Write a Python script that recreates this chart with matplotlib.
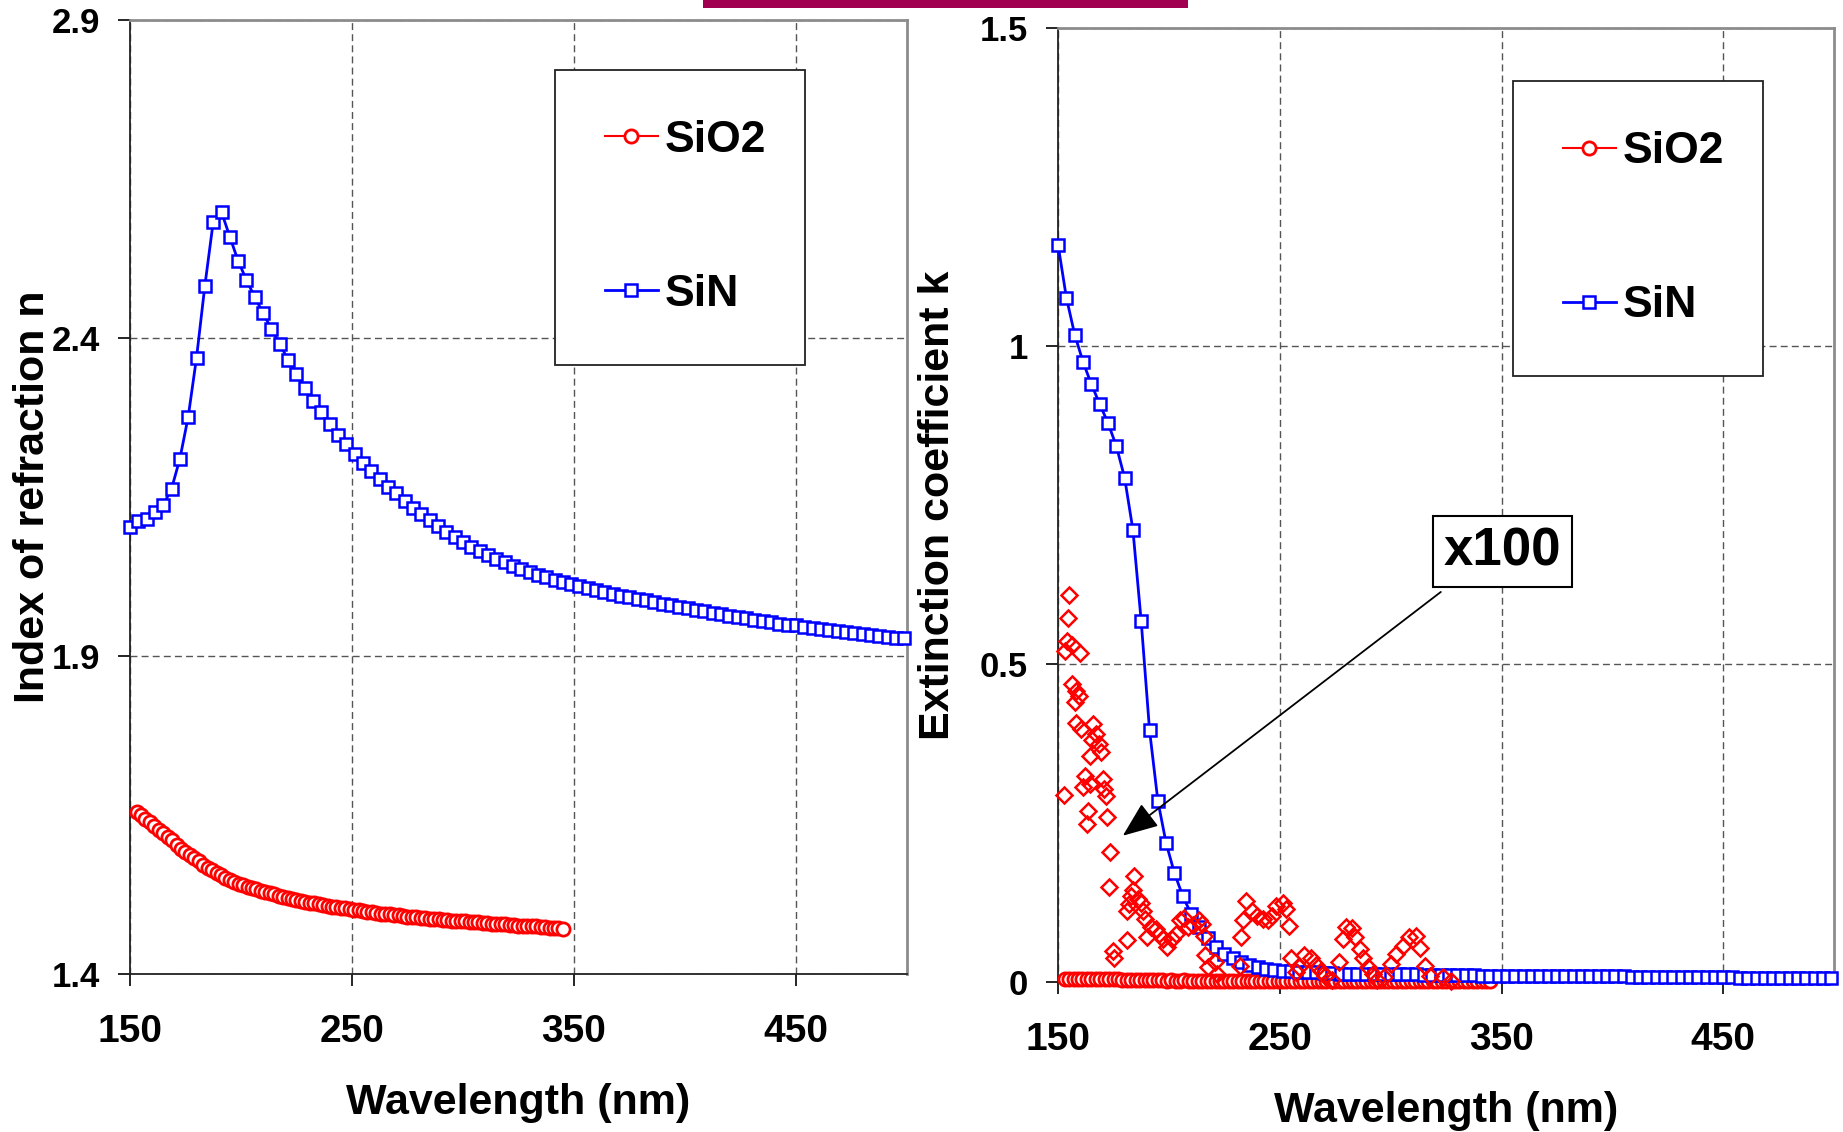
import numpy as np
import matplotlib
matplotlib.use('Agg')
import matplotlib.pyplot as plt
from matplotlib.patches import Rectangle

plt.rcParams['font.family'] = ['Liberation Sans', 'DejaVu Sans']
plt.rcParams['font.weight'] = 'bold'
plt.rcParams['axes.labelweight'] = 'bold'

# sampling grids of the measured spectra (nm)
wl_sin = np.arange(150, 500, 3.75)    # 94 points, 150 ... 498.75
wl_sio2 = np.arange(153, 346, 2)      # 97 points, 153 ... 345

# index of refraction n
n_sin = [2.103, 2.112, 2.115, 2.126, 2.137, 2.163, 2.210, 2.276, 2.369, 2.482,
         2.582, 2.598, 2.559, 2.521, 2.491, 2.464, 2.439, 2.414, 2.391, 2.365,
         2.343, 2.321, 2.301, 2.284, 2.265, 2.247, 2.233, 2.218, 2.203, 2.191,
         2.178, 2.166, 2.156, 2.144, 2.133, 2.123, 2.113, 2.104, 2.095, 2.087,
         2.079, 2.072, 2.065, 2.059, 2.053, 2.047, 2.042, 2.037, 2.032, 2.028,
         2.024, 2.020, 2.016, 2.013, 2.010, 2.007, 2.004, 2.001, 1.998, 1.995,
         1.993, 1.990, 1.988, 1.985, 1.982, 1.980, 1.977, 1.975, 1.972, 1.970,
         1.968, 1.966, 1.963, 1.961, 1.959, 1.957, 1.955, 1.953, 1.951, 1.949,
         1.948, 1.946, 1.944, 1.942, 1.941, 1.939, 1.937, 1.936, 1.934, 1.933,
         1.931, 1.930, 1.929, 1.928]

n_sio2 = [1.655, 1.650, 1.644, 1.639, 1.633, 1.627, 1.622, 1.616, 1.610, 1.603,
          1.597, 1.591, 1.587, 1.582, 1.577, 1.572, 1.567, 1.563, 1.559, 1.555,
          1.551, 1.548, 1.545, 1.542, 1.540, 1.537, 1.535, 1.533, 1.531, 1.529,
          1.527, 1.525, 1.523, 1.521, 1.520, 1.518, 1.516, 1.515, 1.513, 1.512,
          1.511, 1.510, 1.509, 1.507, 1.506, 1.505, 1.504, 1.503, 1.502, 1.501,
          1.500, 1.499, 1.498, 1.497, 1.496, 1.495, 1.494, 1.494, 1.493, 1.492,
          1.491, 1.490, 1.490, 1.489, 1.488, 1.488, 1.487, 1.486, 1.486, 1.485,
          1.485, 1.484, 1.484, 1.483, 1.483, 1.482, 1.481, 1.481, 1.480, 1.480,
          1.479, 1.479, 1.478, 1.478, 1.477, 1.477, 1.476, 1.476, 1.476, 1.475,
          1.475, 1.474, 1.474, 1.473, 1.473, 1.472, 1.471]

# extinction coefficient k
k_sin = [1.159, 1.076, 1.018, 0.975, 0.940, 0.909, 0.879, 0.843, 0.793, 0.711,
         0.567, 0.396, 0.285, 0.218, 0.171, 0.135, 0.107, 0.086, 0.069, 0.055,
         0.044, 0.037, 0.031, 0.026, 0.023, 0.021, 0.019, 0.018, 0.017, 0.016,
         0.015, 0.015, 0.014, 0.014, 0.013, 0.013, 0.013, 0.013, 0.012, 0.012,
         0.012, 0.012, 0.012, 0.012, 0.011, 0.011, 0.011, 0.011, 0.011, 0.011,
         0.011, 0.010, 0.010, 0.010, 0.010, 0.010, 0.010, 0.010, 0.010, 0.009,
         0.009, 0.009, 0.009, 0.009, 0.009, 0.009, 0.009, 0.009, 0.009, 0.008,
         0.008, 0.008, 0.008, 0.008, 0.008, 0.008, 0.008, 0.008, 0.008, 0.008,
         0.008, 0.008, 0.007, 0.007, 0.007, 0.007, 0.007, 0.007, 0.007, 0.007,
         0.007, 0.007, 0.007, 0.007]

k_sio2 = [0.005, 0.005, 0.005, 0.004, 0.005, 0.004, 0.005, 0.004, 0.004, 0.005,
          0.004, 0.004, 0.004, 0.003, 0.003, 0.003, 0.003, 0.003, 0.003, 0.003,
          0.003, 0.003, 0.003, 0.002, 0.003, 0.002, 0.002, 0.003, 0.002, 0.002,
          0.002, 0.002, 0.002, 0.002, 0.002, 0.002, 0.002, 0.002, 0.002, 0.002,
          0.002, 0.002, 0.002, 0.002, 0.002, 0.002, 0.002, 0.002, 0.002, 0.002,
          0.002, 0.002, 0.001, 0.002, 0.001, 0.001, 0.001, 0.001, 0.001, 0.001,
          0.001, 0.001, 0.001, 0.001, 0.001, 0.001, 0.001, 0.001, 0.001, 0.001,
          0.001, 0.001, 0.001, 0.001, 0.001, 0.001, 0.001, 0.001, 0.001, 0.001,
          0.001, 0.001, 0.001, 0.001, 0.001, 0.001, 0.001, 0.001, 0.001, 0.001,
          0.001, 0.001, 0.001, 0.001, 0.001, 0.001, 0.001]

# SiO2 k multiplied by 100 (red diamonds)
wl_x100 = [154.8, 154.5, 154.0, 156.4, 153.2, 160.0, 156.1, 158.0, 159.6, 157.5,
           158.0, 160.4, 165.7, 167.3, 165.2, 168.5, 164.4, 169.3, 162.0, 161.2,
           164.4, 170.1, 170.9, 171.4, 152.9, 163.6, 163.2, 172.2, 173.6, 172.8,
           184.2, 183.7, 182.9, 181.8, 186.1, 187.4, 181.3, 188.5, 189.3, 191.7,
           190.1, 194.1, 195.7, 197.4, 199.0, 201.4, 203.0, 205.0, 207.0, 208.6,
           211.0, 213.4, 215.0, 215.8, 181.0, 174.6, 175.2, 216.1, 217.4, 220.6,
           221.9, 231.9, 232.7, 233.5, 234.8, 237.5, 239.9, 242.3, 244.7, 246.3,
           248.2, 251.6, 252.7, 254.3, 255.1, 257.5, 258.8, 260.8, 264.0, 266.4,
           268.8, 270.4, 273.6, 276.8, 278.4, 280.0, 282.4, 284.0, 286.1, 287.7,
           289.6, 292.0, 293.7, 296.9, 300.1, 302.5, 305.4, 308.1, 311.3, 313.4,
           315.3, 317.7, 323.4, 327.4]
k_x100 = [0.608, 0.573, 0.536, 0.530, 0.521, 0.518, 0.468, 0.457, 0.450, 0.441,
          0.408, 0.398, 0.406, 0.390, 0.381, 0.374, 0.356, 0.362, 0.324, 0.307,
          0.311, 0.319, 0.303, 0.292, 0.294, 0.269, 0.249, 0.259, 0.204, 0.149,
          0.166, 0.144, 0.136, 0.123, 0.131, 0.125, 0.111, 0.112, 0.099, 0.086,
          0.071, 0.084, 0.076, 0.068, 0.055, 0.068, 0.076, 0.097, 0.100, 0.086,
          0.089, 0.097, 0.091, 0.073, 0.066, 0.048, 0.038, 0.042, 0.024, 0.031,
          0.013, 0.025, 0.071, 0.097, 0.128, 0.112, 0.104, 0.099, 0.097, 0.104,
          0.120, 0.125, 0.115, 0.088, 0.037, 0.016, 0.024, 0.042, 0.037, 0.026,
          0.018, 0.010, 0.003, 0.031, 0.068, 0.086, 0.085, 0.071, 0.052, 0.037,
          0.024, 0.013, 0.003, 0.008, 0.029, 0.044, 0.057, 0.071, 0.073, 0.053,
          0.025, 0.010, 0.008, 0.001]

x_ticks = [150, 250, 350, 450]
n_ticks = [1.4, 1.9, 2.4, 2.9]
k_ticks = [0, 0.5, 1, 1.5]
k_tick_labels = ['0', '0.5', '1', '1.5']

fig = plt.figure(figsize=(18.43, 11.32), dpi=100)
ax1 = fig.add_axes([0.0705, 0.1396, 0.4216, 0.8428])
ax2 = fig.add_axes([0.5741, 0.1325, 0.4211, 0.8428])

# magenta strip at the top
fig.patches.append(Rectangle((0.3814, 0.9929), 0.2632, 0.0071, transform=fig.transFigure,
                             facecolor='#a0004f', edgecolor='none'))


def style(ax):
    ax.set_xlim(150, 500)
    ax.set_xticks(x_ticks)
    ax.grid(True, color='#555555', linestyle=(0, (5, 3)), linewidth=1.0)
    ax.set_axisbelow(True)
    for s in ['top', 'right']:
        ax.spines[s].set_color('#8c8c8c')
        ax.spines[s].set_linewidth(2)
    for s in ['left', 'bottom']:
        ax.spines[s].set_color('#222222')
        ax.spines[s].set_linewidth(1.3)
    ax.tick_params(direction='out', length=8.5, width=1.2, labelsize=25)
    ax.tick_params(axis='x', pad=20, labelsize=28)
    ax.tick_params(axis='y', pad=13)
    ax.set_xlabel('Wavelength (nm)', fontsize=31)


def add_legend(ax, x0, top):
    leg = ax.legend(loc='upper left', bbox_to_anchor=(x0, top - 0.01, 0.322, 0.01),
                    mode='expand', borderaxespad=0, fontsize=32, handlelength=1.2,
                    handletextpad=0.15, borderpad=1.12, labelspacing=2.55,
                    fancybox=False, framealpha=1, numpoints=1)
    leg.get_frame().set_edgecolor('#222222')
    leg.get_frame().set_linewidth(1.3)


# left: index of refraction
ax1.plot(wl_sio2, n_sio2, color='red', lw=1.5, marker='o', ms=9.5, mfc='white', mew=2,
         clip_on=False, label='SiO2', zorder=3)
ax1.plot(wl_sin, n_sin, color='blue', lw=2, marker='s', ms=9, mfc='white', mew=1.8,
         clip_on=False, label='SiN', zorder=4)
style(ax1)
ax1.set_ylim(1.4, 2.9)
ax1.set_yticks(n_ticks)
ax1.set_ylabel('Index of refraction n', fontsize=31)
ax1.yaxis.set_label_coords(-0.099, 0.5)
ax1.xaxis.set_label_coords(0.5, -0.114)
add_legend(ax1, 0.547, 0.9476)

# right: extinction coefficient
ax2.plot(wl_sio2, k_sio2, color='red', lw=1.5, marker='o', ms=9.5, mfc='white', mew=2,
         clip_on=False, label='SiO2', zorder=3)
ax2.plot(wl_sin, k_sin, color='blue', lw=2, marker='s', ms=9, mfc='white', mew=1.8,
         clip_on=False, label='SiN', zorder=4)
ax2.plot(wl_x100, k_x100, linestyle='none', marker='D', ms=8, mfc='none', mec='red',
         mew=1.8, clip_on=False, zorder=5)
style(ax2)
ax2.set_ylim(0, 1.5)
ax2.set_yticks(k_ticks)
ax2.set_yticklabels(k_tick_labels)
ax2.set_ylabel('Extinction coefficient k', fontsize=31)
ax2.yaxis.set_label_coords(-0.129, 0.5)
ax2.xaxis.set_label_coords(0.5, -0.114)
add_legend(ax2, 0.586, 0.944)

ax2.annotate('x100', xy=(179.2, 0.230), xytext=(350.3, 0.677), fontsize=38,
             ha='center', va='center',
             bbox=dict(boxstyle='square,pad=0.2', facecolor='white', edgecolor='black', lw=1.5),
             arrowprops=dict(arrowstyle='-|>,head_length=1.0,head_width=0.4', color='black',
                             lw=1.3, mutation_scale=22, relpos=(0.15, 0), shrinkA=5, shrinkB=0),
             zorder=6)

fig.savefig('out.png', dpi=100)
